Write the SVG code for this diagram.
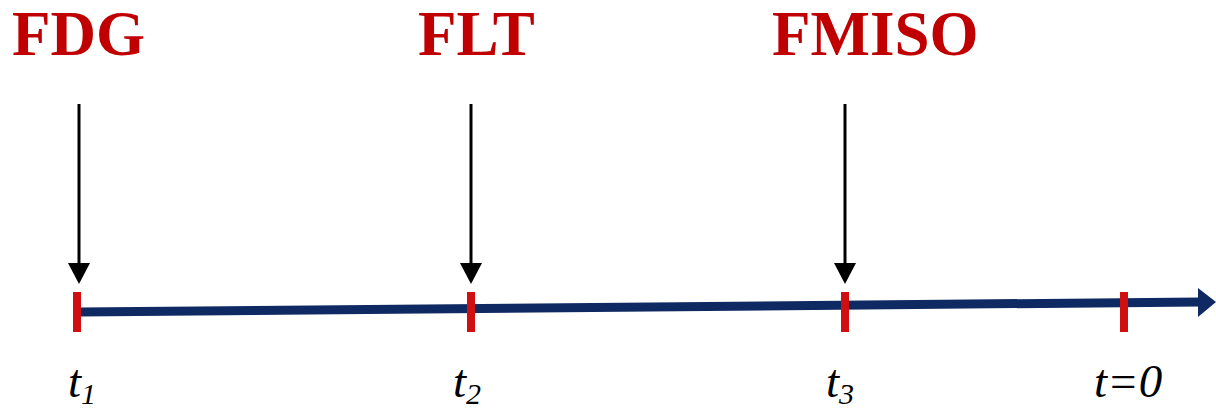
<svg xmlns="http://www.w3.org/2000/svg" width="1216" height="409" viewBox="0 0 1216 409">
<style>
.lbl{font-family:"Liberation Serif","Times New Roman",serif;font-weight:bold;font-size:63px;fill:#c00000}
.t{font-family:"Liberation Serif","Times New Roman",serif;font-style:italic;font-size:47px;fill:#000}
.sub{font-size:30px}
.arr{stroke:#000;stroke-width:3;fill:none}
.tick{stroke:#d01010;stroke-width:8}
</style>
<g id="connectors">
<g id="timeline">
<line x1="79" y1="312" x2="1200" y2="302" stroke="#0f2a62" stroke-width="9"/>
<polygon points="1198,288 1216,302 1198,317" fill="#0f2a62"/>
</g>
<g id="arrows">
<line class="arr" x1="79" y1="104" x2="79" y2="264"/>
<polygon points="68,263 90,263 79,284" fill="#000"/>
<line class="arr" x1="471" y1="104" x2="471" y2="264"/>
<polygon points="460,263 482,263 471,284" fill="#000"/>
<line class="arr" x1="845" y1="104" x2="845" y2="264"/>
<polygon points="834,263 856,263 845,284" fill="#000"/>
</g>
</g>
<g id="ticks">
<line class="tick" x1="77" y1="292" x2="77" y2="332"/>
<line class="tick" x1="471" y1="292" x2="471" y2="332"/>
<line class="tick" x1="845" y1="292" x2="845" y2="332"/>
<line class="tick" x1="1124" y1="292" x2="1124" y2="332"/>
</g>
<g id="node-fdg"><text class="lbl" x="12" y="55">FDG</text></g>
<g id="node-flt"><text class="lbl" x="418" y="55">FLT</text></g>
<g id="node-fmiso"><text class="lbl" x="772" y="55">FMISO</text></g>
<g id="label-t1"><text class="t" x="68" y="397">t<tspan class="sub" dy="7">1</tspan></text></g>
<g id="label-t2"><text class="t" x="453" y="397">t<tspan class="sub" dy="7">2</tspan></text></g>
<g id="label-t3"><text class="t" x="826" y="397">t<tspan class="sub" dy="7">3</tspan></text></g>
<g id="label-t0"><text class="t" x="1094" y="397">t=0</text></g>
</svg>
